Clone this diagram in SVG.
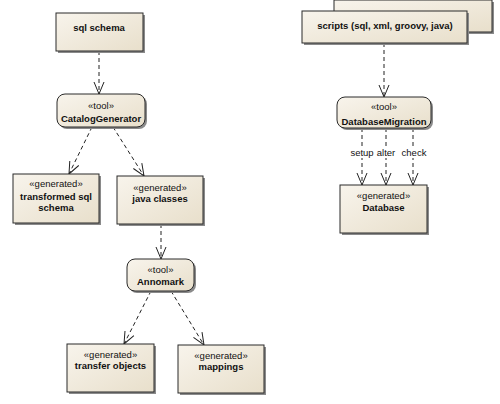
<svg xmlns="http://www.w3.org/2000/svg" width="500" height="404" viewBox="0 0 500 404">
<defs>
<linearGradient id="g" x1="0" y1="0" x2="1" y2="1">
<stop offset="0" stop-color="#f8f4ec"/>
<stop offset="1" stop-color="#e8dfcb"/>
</linearGradient>
<marker id="ah" viewBox="0 0 13 12" refX="12" refY="6" markerWidth="13" markerHeight="12" markerUnits="userSpaceOnUse" orient="auto">
<path d="M0,1 L12,6 L0,11" fill="none" stroke="#222" stroke-width="1"/>
</marker>
</defs>
<style>
.b{fill:url(#g);stroke:#2a2a2a;stroke-width:1}
.s{fill:#8a8a8a}
text{font-family:"Liberation Sans",Arial,sans-serif;font-size:9.5px;fill:#111;text-anchor:middle}
.n{font-weight:bold}
.c{stroke:#222;stroke-width:1;stroke-dasharray:4,3;fill:none;marker-end:url(#ah)}
.lb{fill:#fff}
</style>
<rect width="500" height="404" fill="#fff"/>
<g id="connectors">
<line class="c" x1="99" y1="51" x2="99" y2="94"/>
<line class="c" x1="92" y1="127" x2="69" y2="174"/>
<line class="c" x1="113" y1="127" x2="144" y2="176"/>
<line class="c" x1="161" y1="224" x2="161" y2="259"/>
<line class="c" x1="151" y1="291" x2="124" y2="344"/>
<line class="c" x1="171" y1="291" x2="204" y2="345"/>
<line class="c" x1="384" y1="43" x2="384" y2="97"/>
<line class="c" x1="362" y1="128" x2="362" y2="185"/>
<line class="c" x1="386" y1="128" x2="386" y2="185"/>
<line class="c" x1="413" y1="128" x2="413" y2="185"/>
<rect class="lb" x="350" y="147" width="24" height="11"/>
<rect class="lb" x="376" y="147" width="20" height="11"/>
<rect class="lb" x="401" y="147" width="26" height="11"/>
<text x="362" y="156">setup</text>
<text x="386" y="156">alter</text>
<text x="414" y="156">check</text>
</g>
<g id="sqlschema">
<rect class="s" x="58" y="15" width="87" height="38"/>
<rect class="b" x="56" y="13" width="87" height="38"/>
<text class="n" x="99" y="31">sql schema</text>
</g>
<g id="catalogGenerator">
<rect class="s" x="59" y="96" width="88" height="33" rx="8"/>
<rect class="b" x="57" y="94" width="88" height="33" rx="8"/>
<text x="101" y="109">«tool»</text>
<text class="n" x="101" y="122">CatalogGenerator</text>
</g>
<g id="transformedSql">
<rect class="s" x="15" y="176" width="86" height="49"/>
<rect class="b" x="13" y="174" width="86" height="49"/>
<text x="56" y="187">«generated»</text>
<text class="n" x="56" y="200">transformed sql</text>
<text class="n" x="56" y="211">schema</text>
</g>
<g id="javaClasses">
<rect class="s" x="119" y="178" width="86" height="48"/>
<rect class="b" x="117" y="176" width="86" height="48"/>
<text x="160" y="191">«generated»</text>
<text class="n" x="160" y="202">java classes</text>
</g>
<g id="annomark">
<rect class="s" x="129" y="261" width="67" height="32" rx="8"/>
<rect class="b" x="127" y="259" width="67" height="32" rx="8"/>
<text x="160.5" y="273">«tool»</text>
<text class="n" x="160.5" y="285">Annomark</text>
</g>
<g id="transferObjects">
<rect class="s" x="69" y="346" width="87" height="48"/>
<rect class="b" x="67" y="344" width="87" height="48"/>
<text x="110.5" y="358">«generated»</text>
<text class="n" x="110.5" y="369">transfer objects</text>
</g>
<g id="mappings">
<rect class="s" x="180" y="347" width="86" height="48"/>
<rect class="b" x="178" y="345" width="86" height="48"/>
<text x="221" y="359">«generated»</text>
<text class="n" x="221" y="370">mappings</text>
</g>
<g id="scripts">
<rect class="s" x="336" y="2" width="158" height="32"/>
<rect class="b" x="334" y="0" width="158" height="32"/>
<rect class="s" x="304" y="13" width="165" height="32"/>
<rect class="b" x="302" y="11" width="165" height="32"/>
<text class="n" x="385" y="29">scripts (sql, xml, groovy, java)</text>
</g>
<g id="databaseMigration">
<rect class="s" x="339" y="99" width="94" height="31" rx="8"/>
<rect class="b" x="337" y="97" width="94" height="31" rx="8"/>
<text x="384" y="110">«tool»</text>
<text class="n" x="384" y="125">DatabaseMigration</text>
</g>
<g id="database">
<rect class="s" x="342" y="187" width="87" height="48"/>
<rect class="b" x="340" y="185" width="87" height="48"/>
<text x="383.5" y="199">«generated»</text>
<text class="n" x="383.5" y="211">Database</text>
</g>
</svg>
